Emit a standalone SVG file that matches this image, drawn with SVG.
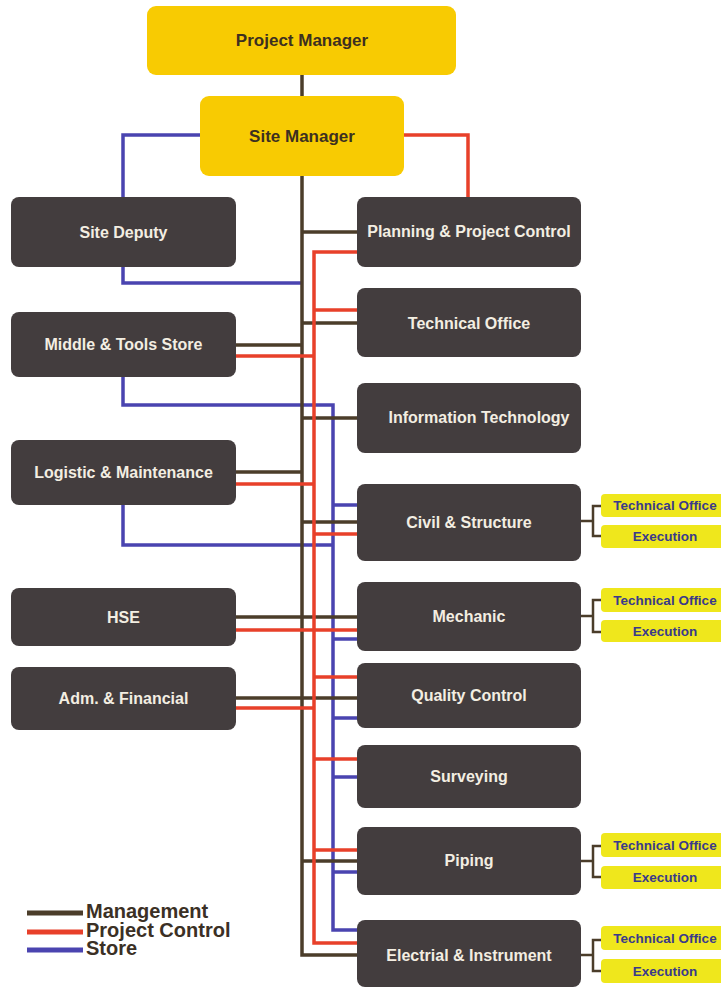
<svg xmlns="http://www.w3.org/2000/svg" width="721" height="987" viewBox="0 0 721 987">
<style>
.bg{fill:#ffffff}
.y{fill:#f8cb02}
.d{fill:#433d3e}
.s{fill:#efe71c}
.ty{font-family:"Liberation Sans",Arial,sans-serif;font-weight:bold;font-size:17px;fill:#3d3020;text-anchor:middle}
.td{font-family:"Liberation Sans",Arial,sans-serif;font-weight:bold;font-size:16px;fill:#f3eee2;text-anchor:middle}
.ts{font-family:"Liberation Sans",Arial,sans-serif;font-weight:bold;font-size:13.5px;fill:#3a3a8a;text-anchor:middle}
.tl{font-family:"Liberation Sans",Arial,sans-serif;font-weight:bold;font-size:20px;fill:#3b3025}
.b{stroke:#4b3d2a;stroke-width:3.5;fill:none}
.r{stroke:#e8402a;stroke-width:3.5;fill:none}
.u{stroke:#4a44b0;stroke-width:3.5;fill:none}
.k{stroke:#4b3d2a;stroke-width:2.5;fill:none}
</style>
<rect class="bg" x="0" y="0" width="721" height="987"/>
<g id="connectors">
  <!-- blue store -->
  <path class="u" d="M200 135 H123 V198"/>
  <path class="u" d="M123 266 V283 H302"/>
  <path class="u" d="M123 377 V405 H333 V930 H358"/>
  <path class="u" d="M123 505 V545 H333"/>
  <path class="u" d="M333 505 H358 M333 639 H358 M333 718 H358 M333 777 H358 M333 872 H358"/>
  <!-- brown management -->
  <path class="b" d="M302 75 V96"/>
  <path class="b" d="M302 176 V955 H358"/>
  <path class="b" d="M302 232 H358 M302 323 H358 M236 345 H302 M302 418 H358 M236 472 H302 M302 522 H358 M236 617 H358 M236 698 H358 M302 861 H358"/>
  <!-- red project control -->
  <path class="r" d="M404 135 H468 V198"/>
  <path class="r" d="M358 252 H314 V943 H358"/>
  <path class="r" d="M314 310 H358 M236 356 H314 M236 484 H314 M314 534 H358 M236 630 H358 M314 677 H358 M236 708 H314 M314 759 H358 M314 850 H358"/>
  <!-- brackets -->
  <path class="k" d="M581 521 H593 M601 506 H593 V536 H601"/>
  <path class="k" d="M581 616 H593 M601 600 H593 V632 H601"/>
  <path class="k" d="M581 861 H593 M601 846 H593 V877 H601"/>
  <path class="k" d="M581 955 H593 M601 940 H593 V971 H601"/>
</g>
<g id="project-manager"><rect class="y" x="147" y="6" width="309" height="69" rx="9"/><text class="ty" x="302" y="46">Project Manager</text></g>
<g id="site-manager"><rect class="y" x="200" y="96" width="204" height="80" rx="9"/><text class="ty" x="302" y="142">Site Manager</text></g>
<g id="site-deputy"><rect class="d" x="11" y="197" width="225" height="70" rx="8"/><text class="td" x="123.5" y="238">Site Deputy</text></g>
<g id="middle-tools-store"><rect class="d" x="11" y="312" width="225" height="65" rx="8"/><text class="td" x="123.5" y="350">Middle &amp; Tools Store</text></g>
<g id="logistic-maintenance"><rect class="d" x="11" y="440" width="225" height="65" rx="8"/><text class="td" x="123.5" y="478">Logistic &amp; Maintenance</text></g>
<g id="hse"><rect class="d" x="11" y="588" width="225" height="58" rx="8"/><text class="td" x="123.5" y="623">HSE</text></g>
<g id="adm-financial"><rect class="d" x="11" y="667" width="225" height="63" rx="8"/><text class="td" x="123.5" y="704">Adm. &amp; Financial</text></g>
<g id="planning"><rect class="d" x="357" y="197" width="224" height="70" rx="8"/><text class="td" x="469" y="237">Planning &amp; Project Control</text></g>
<g id="technical-office"><rect class="d" x="357" y="288" width="224" height="69" rx="8"/><text class="td" x="469" y="329">Technical Office</text></g>
<g id="information-technology"><rect class="d" x="357" y="383" width="224" height="70" rx="8"/><text class="td" x="479" y="423">Information Technology</text></g>
<g id="civil-structure"><rect class="d" x="357" y="484" width="224" height="77" rx="8"/><text class="td" x="469" y="528">Civil &amp; Structure</text></g>
<g id="mechanic"><rect class="d" x="357" y="582" width="224" height="69" rx="8"/><text class="td" x="469" y="622">Mechanic</text></g>
<g id="quality-control"><rect class="d" x="357" y="663" width="224" height="65" rx="8"/><text class="td" x="469" y="701">Quality Control</text></g>
<g id="surveying"><rect class="d" x="357" y="745" width="224" height="63" rx="8"/><text class="td" x="469" y="782">Surveying</text></g>
<g id="piping"><rect class="d" x="357" y="827" width="224" height="68" rx="8"/><text class="td" x="469" y="866">Piping</text></g>
<g id="electrical-instrument"><rect class="d" x="357" y="920" width="224" height="67" rx="8"/><text class="td" x="469" y="961">Electrial &amp; Instrument</text></g>
<g id="civil-technical-office"><rect class="s" x="601" y="494" width="128" height="23" rx="4"/><text class="ts" x="665" y="510">Technical Office</text></g>
<g id="civil-execution"><rect class="s" x="601" y="525" width="128" height="23" rx="4"/><text class="ts" x="665" y="541">Execution</text></g>
<g id="mechanic-technical-office"><rect class="s" x="601" y="588" width="128" height="24" rx="4"/><text class="ts" x="665" y="605">Technical Office</text></g>
<g id="mechanic-execution"><rect class="s" x="601" y="620" width="128" height="22" rx="4"/><text class="ts" x="665" y="636">Execution</text></g>
<g id="piping-technical-office"><rect class="s" x="601" y="833" width="128" height="24" rx="4"/><text class="ts" x="665" y="850">Technical Office</text></g>
<g id="piping-execution"><rect class="s" x="601" y="866" width="128" height="23" rx="4"/><text class="ts" x="665" y="882">Execution</text></g>
<g id="electrical-technical-office"><rect class="s" x="601" y="926" width="128" height="24" rx="4"/><text class="ts" x="665" y="943">Technical Office</text></g>
<g id="electrical-execution"><rect class="s" x="601" y="959" width="128" height="24" rx="4"/><text class="ts" x="665" y="976">Execution</text></g>
<g id="legend">
  <line x1="27" y1="913" x2="83" y2="913" stroke="#4b3d2a" stroke-width="5"/>
  <line x1="27" y1="932" x2="83" y2="932" stroke="#e8402a" stroke-width="5"/>
  <line x1="27" y1="950" x2="83" y2="950" stroke="#4a44b0" stroke-width="5"/>
  <text class="tl" x="86" y="918">Management</text>
  <text class="tl" x="86" y="937">Project Control</text>
  <text class="tl" x="86" y="955">Store</text>
</g>
</svg>
